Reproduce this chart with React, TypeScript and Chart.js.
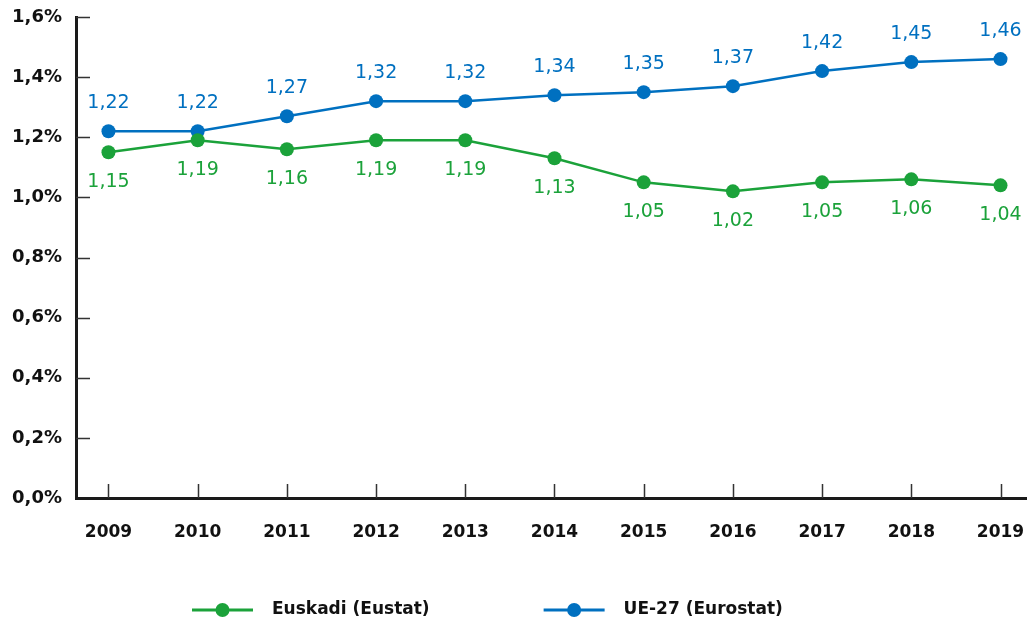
import React, { useEffect, useRef } from "react";
import { Chart, registerables } from "chart.js";

Chart.register(...registerables);

const years = [2009, 2010, 2011, 2012, 2013, 2014, 2015, 2016, 2017, 2018, 2019];
const euskadi = [1.15, 1.19, 1.16, 1.19, 1.19, 1.13, 1.05, 1.02, 1.05, 1.06, 1.04];
const ue27 = [1.22, 1.22, 1.27, 1.32, 1.32, 1.34, 1.35, 1.37, 1.42, 1.45, 1.46];
const seriesNames = ["Euskadi (Eustat)", "UE-27 (Eurostat)"];
const yTickValues = [0, 0.2, 0.4, 0.6, 0.8, 1.0, 1.2, 1.4, 1.6];

const GREEN = "#1ba23a";
const BLUE = "#0070c0";
const FONT = "'DejaVu Sans', sans-serif";

const fmt = (v: number, d: number) => v.toFixed(d).replace(".", ",");

const tickMarks = {
  id: "tickMarks",
  beforeDatasetsDraw(chart: any) {
    const { ctx, chartArea, scales } = chart;
    ctx.save();
    ctx.strokeStyle = "#333";
    ctx.lineWidth = 1.5;
    ctx.beginPath();
    yTickValues.forEach((v) => {
      if (v === 0) return;
      const y = Math.round(scales.y.getPixelForValue(v)) + 0.5;
      ctx.moveTo(chartArea.left, y);
      ctx.lineTo(chartArea.left + 14, y);
    });
    years.forEach((v) => {
      const x = Math.round(scales.x.getPixelForValue(v)) + 0.5;
      ctx.moveTo(x, chartArea.bottom);
      ctx.lineTo(x, chartArea.bottom - 14);
    });
    ctx.stroke();
    ctx.restore();
  },
};

const valueLabels = {
  id: "valueLabels",
  afterDatasetsDraw(chart: any) {
    const { ctx } = chart;
    ctx.save();
    ctx.font = `19px ${FONT}`;
    ctx.textAlign = "center";
    ctx.textBaseline = "middle";
    chart.data.datasets.forEach((ds: any, di: number) => {
      const meta = chart.getDatasetMeta(di);
      ctx.fillStyle = ds.borderColor;
      const off = di === 1 ? -28 : 30;
      meta.data.forEach((pt: any, i: number) => {
        ctx.fillText(fmt(ds.data[i].y, 2), pt.x, pt.y + off);
      });
    });
    ctx.restore();
  },
};

const customLegend = {
  id: "customLegend",
  afterDraw(chart: any) {
    const { ctx } = chart;
    ctx.save();
    ctx.font = `bold 17px ${FONT}`;
    ctx.textBaseline = "middle";
    ctx.textAlign = "left";
    let x = 192;
    const y = 610;
    chart.data.datasets.forEach((ds: any) => {
      ctx.strokeStyle = ds.borderColor;
      ctx.fillStyle = ds.borderColor;
      ctx.lineWidth = 3;
      ctx.beginPath();
      ctx.moveTo(x, y);
      ctx.lineTo(x + 61, y);
      ctx.stroke();
      ctx.beginPath();
      ctx.arc(x + 30.5, y, 7, 0, Math.PI * 2);
      ctx.fill();
      const tx = x + 80;
      ctx.fillStyle = "#111";
      ctx.fillText(ds.label, tx, y);
      x = tx + ctx.measureText(ds.label).width + 114;
    });
    ctx.restore();
  },
};

export default function App() {
  const ref = useRef<HTMLCanvasElement | null>(null);
  useEffect(() => {
    document.body.style.margin = "0";
    const canvas = ref.current!;
    const chart = new Chart(canvas, {
      type: "line",
      data: {
        datasets: [
          {
            label: seriesNames[0],
            data: years.map((yr, i) => ({ x: yr, y: euskadi[i] })),
            borderColor: GREEN,
            backgroundColor: GREEN,
            borderWidth: 2.5,
            pointRadius: 7,
            pointHoverRadius: 7,
            pointBorderWidth: 0,
            tension: 0,
            clip: false,
          },
          {
            label: seriesNames[1],
            data: years.map((yr, i) => ({ x: yr, y: ue27[i] })),
            borderColor: BLUE,
            backgroundColor: BLUE,
            borderWidth: 2.5,
            pointRadius: 7,
            pointHoverRadius: 7,
            pointBorderWidth: 0,
            tension: 0,
            clip: false,
          },
        ],
      },
      options: {
        responsive: false,
        animation: false,
        layout: { autoPadding: false, padding: { top: 17, right: 0, left: 0, bottom: 0 } },
        plugins: {
          legend: { display: false },
          tooltip: { enabled: false },
        },
        scales: {
          x: {
            type: "linear",
            min: 2008.636,
            max: 2019.297,
            afterBuildTicks: (scale: any) => {
              scale.ticks = years.map((v) => ({ value: v }));
            },
            afterFit: (scale: any) => {
              scale.height = 125;
              scale.paddingLeft = 0;
              scale.paddingRight = 0;
            },
            grid: { display: false, drawTicks: false },
            border: { display: true, color: "#1a1a1a", width: 3 },
            ticks: {
              padding: 24,
              autoSkip: false,
              maxRotation: 0,
              color: "#111",
              font: { family: FONT, size: 17, weight: "bold" },
              callback: (v: any) => String(v),
            },
          },
          y: {
            min: 0,
            max: 1.6,
            afterBuildTicks: (scale: any) => {
              scale.ticks = yTickValues.map((v) => ({ value: v }));
            },
            afterFit: (scale: any) => {
              scale.width = 76;
              scale.paddingTop = 0;
              scale.paddingBottom = 0;
            },
            grid: { display: false, drawTicks: false },
            border: { display: true, color: "#1a1a1a", width: 3 },
            ticks: {
              padding: 14,
              color: "#111",
              font: { family: FONT, size: 18, weight: "bold" },
              callback: (v: any) => fmt(Number(v), 1) + "%",
            },
          },
        },
      },
      plugins: [tickMarks, valueLabels, customLegend],
    });
    return () => chart.destroy();
  }, []);
  return (
    <div style={{ width: 1027, height: 623 }}>
      <canvas ref={ref} width={1027} height={623} />
    </div>
  );
}
